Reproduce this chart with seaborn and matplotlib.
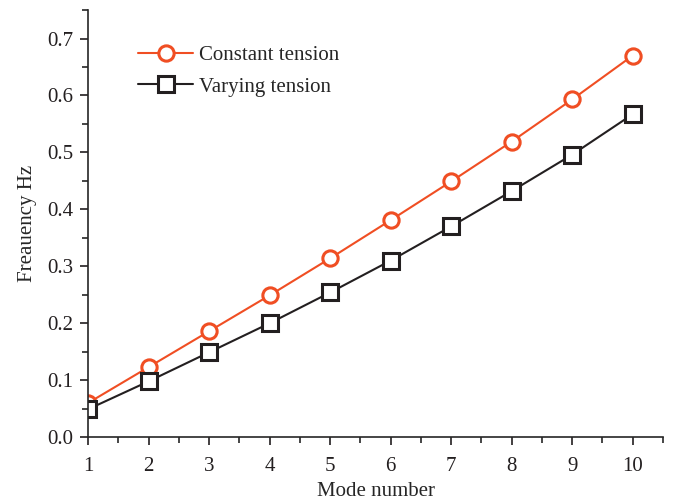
import matplotlib

matplotlib.use("Agg")
import matplotlib.pyplot as plt
import pandas as pd
import seaborn as sns
from matplotlib.ticker import MultipleLocator

modes = [1, 2, 3, 4, 5, 6, 7, 8, 9, 10]
constant_tension = [0.060, 0.123, 0.186, 0.249, 0.314, 0.381, 0.449, 0.519, 0.593, 0.670]
varying_tension = [0.049, 0.098, 0.149, 0.200, 0.254, 0.310, 0.370, 0.432, 0.496, 0.567]
series_names = ["Constant tension", "Varying tension"]
colors = ["#f04e23", "#231f20"]

sns.set_style("ticks")
plt.rcParams["font.family"] = ["Liberation Serif", "DejaVu Serif"]

df = pd.DataFrame({
    "mode": modes * 2,
    "freq": constant_tension + varying_tension,
    "series": [series_names[0]] * len(modes) + [series_names[1]] * len(modes),
})

fig = plt.figure(figsize=(6.73, 5.03), dpi=100)
ax = fig.add_axes([0.131, 0.131, 0.854, 0.849])

sns.lineplot(
    data=df, x="mode", y="freq", hue="series", style="series",
    palette=colors, markers=["o", "s"], dashes=False,
    markersize=11, markerfacecolor="white", markeredgewidth=2.2, linewidth=1.5,
    ax=ax,
)
for line, col in zip(ax.lines, colors):
    line.set_markeredgecolor(col)

ax.set_xlim(1, 10.5)
ax.set_ylim(0, 0.75)
ax.xaxis.set_major_locator(MultipleLocator(1))
ax.xaxis.set_minor_locator(MultipleLocator(0.5))
ax.yaxis.set_minor_locator(MultipleLocator(0.05))
ax.set_yticks([0, 0.1, 0.2, 0.3, 0.4, 0.5, 0.6, 0.7])
ax.tick_params(axis="both", which="major", direction="out", length=6, width=1.2, labelsize=15, colors="#231f20")
ax.tick_params(axis="x", which="major", pad=8)
ax.tick_params(axis="y", which="major", pad=5)
ax.tick_params(axis="both", which="minor", direction="out", length=4, width=1.2)
ax.set_xlabel("Mode number", fontsize=15, labelpad=5)
ax.set_ylabel("Freauency Hz", fontsize=15, labelpad=7)
sns.despine(ax=ax)
for sp in ax.spines.values():
    sp.set_linewidth(1.2)

handles, labels = ax.get_legend_handles_labels()
for h, col in zip(handles, colors):
    h.set_markerfacecolor("white")
    h.set_markeredgecolor(col)
    h.set_markeredgewidth(2.2)
    h.set_markersize(11)
ax.legend(handles, labels, loc="upper left", bbox_to_anchor=(0.054, 0.96), frameon=False,
          fontsize=15, handlelength=2.65, handletextpad=0.3, labelspacing=0.55)

fig.savefig("out.png", dpi=100)
